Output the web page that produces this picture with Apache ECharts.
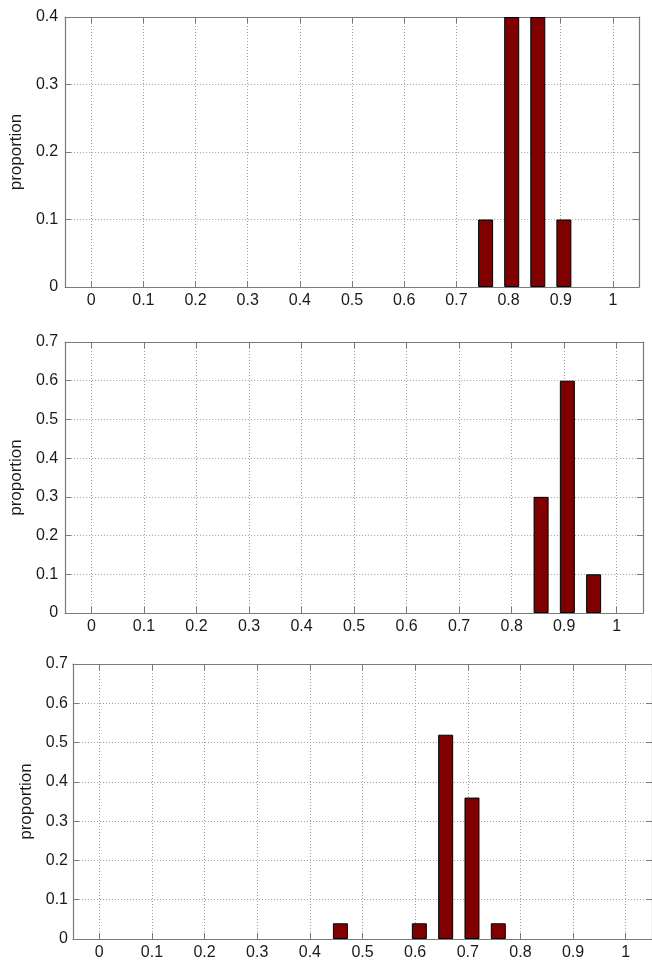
<!DOCTYPE html>
<html>
<head>
<meta charset="utf-8">
<script src="https://cdn.jsdelivr.net/npm/echarts@6/dist/echarts.min.js"></script>
<style>
html,body{margin:0;padding:0;background:#fff;}
#chart{width:652px;height:962px;}
</style>
</head>
<body>
<div id="chart"></div>
<script>
// ---- data ----
const xTicks = [0, 0.1, 0.2, 0.3, 0.4, 0.5, 0.6, 0.7, 0.8, 0.9, 1];
const yName = 'proportion';

const bins1 = [0.756, 0.806, 0.856, 0.906];
const vals1 = [0.1, 0.4, 0.4, 0.1];

const bins2 = [0.856, 0.906, 0.956];
const vals2 = [0.3, 0.6, 0.1];

const bins3 = [0.458, 0.608, 0.658, 0.708, 0.758];
const vals3 = [0.04, 0.04, 0.52, 0.36, 0.04];

const yMax = [0.4, 0.7, 0.7];

// ---- styling ----
const FONT = 'Liberation Sans, Arial, sans-serif';
const AXIS_COLOR = '#7a7a7a';
const GRID_COLOR = '#a0a0a0';
const LABEL_COLOR = '#1a1a1a';

const grids = [
  {left: 62, right: 13, top: 17, height: 270},
  {left: 62, right: 9, top: 342, height: 271},
  {left: 73, right: -7, top: 664, height: 275}
];
const nameGaps = [31, 31, 36];
const yLabelMargins = [7, 7, 5];

const xAxes = [], yAxes = [], series = [];
const allBins = [bins1, bins2, bins3];
const allVals = [vals1, vals2, vals3];

grids.forEach((g, i) => {
  xAxes.push({
    type: 'value', gridIndex: i, min: -0.05, max: 1.05, position: 'bottom',
    axisLine: {show: true, onZero: false, lineStyle: {color: AXIS_COLOR, width: 1.2}},
    axisTick: {show: true, inside: true, length: 6, customValues: xTicks, lineStyle: {color: AXIS_COLOR}},
    axisLabel: {show: true, customValues: xTicks, margin: 6, fontSize: 16, fontFamily: FONT, color: LABEL_COLOR,
      formatter: v => String(v)},
    splitLine: {show: true, lineStyle: {color: GRID_COLOR, type: [1, 2], width: 1}}
  });
  xAxes.push({
    type: 'value', gridIndex: i, min: -0.05, max: 1.05, position: 'top',
    axisLine: {show: true, onZero: false, lineStyle: {color: AXIS_COLOR, width: 1.2}},
    axisTick: {show: true, inside: true, length: 6, customValues: xTicks, lineStyle: {color: AXIS_COLOR}},
    axisLabel: {show: false},
    splitLine: {show: false}
  });
  yAxes.push({
    type: 'value', gridIndex: i, min: 0, max: yMax[i], interval: 0.1, position: 'left',
    name: yName, nameLocation: 'middle', nameRotate: 90, nameGap: nameGaps[i],
    nameTextStyle: {fontSize: 17, fontFamily: FONT, color: LABEL_COLOR},
    axisLine: {show: true, onZero: false, lineStyle: {color: AXIS_COLOR, width: 1.2}},
    axisTick: {show: true, inside: true, length: 6, lineStyle: {color: AXIS_COLOR}},
    axisLabel: {show: true, margin: yLabelMargins[i], fontSize: 16, fontFamily: FONT, color: LABEL_COLOR},
    splitLine: {show: true, lineStyle: {color: GRID_COLOR, type: [1, 2], width: 1}}
  });
  yAxes.push({
    type: 'value', gridIndex: i, min: 0, max: yMax[i], interval: 0.1, position: 'right',
    axisLine: {show: true, onZero: false, lineStyle: {color: AXIS_COLOR, width: 1.2}},
    axisTick: {show: true, inside: true, length: 6, lineStyle: {color: AXIS_COLOR}},
    axisLabel: {show: false},
    splitLine: {show: false}
  });
  series.push({
    type: 'bar',
    xAxisIndex: i * 2, yAxisIndex: i * 2,
    barWidth: 15,
    data: allBins[i].map((b, k) => [b, allVals[i][k]]),
    itemStyle: {color: '#800000', borderColor: '#000', borderWidth: 1},
    silent: true
  });
});

const chart = echarts.init(document.getElementById('chart'), null, {renderer: 'canvas'});
chart.setOption({
  backgroundColor: '#fff',
  animation: false,
  grid: grids.map(g => Object.assign({containLabel: false, show: false}, g)),
  xAxis: xAxes,
  yAxis: yAxes,
  series: series
});
</script>
</body>
</html>
